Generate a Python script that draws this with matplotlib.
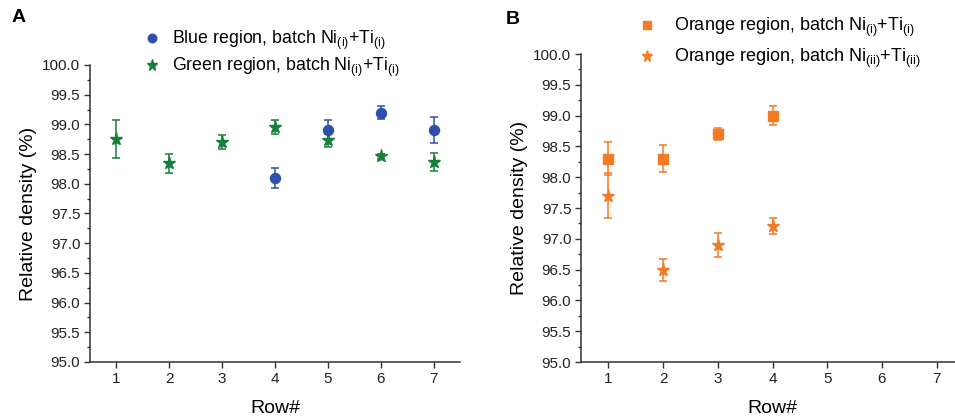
import matplotlib
matplotlib.use("Agg")
import matplotlib.pyplot as plt
from matplotlib.ticker import MultipleLocator, FormatStrFormatter

plt.rcParams["font.family"] = ["Liberation Sans", "DejaVu Sans"]
plt.rcParams["mathtext.fontset"] = "custom"
plt.rcParams["mathtext.rm"] = "Liberation Sans"
plt.rcParams["mathtext.it"] = "Liberation Sans"
plt.rcParams["mathtext.default"] = "regular"

# Panel A: density per row, blue and green regions
rows_blue = [4, 5, 6, 7]
blue_density = [98.1, 98.9, 99.2, 98.9]
blue_err = [0.17, 0.17, 0.11, 0.22]

rows_green = [1, 2, 3, 4, 5, 6, 7]
green_density = [98.75, 98.35, 98.7, 98.95, 98.73, 98.46, 98.37]
green_err = [0.32, 0.16, 0.12, 0.12, 0.11, 0.04, 0.15]

# Panel B: orange region, two powder batches
rows_orange = [1, 2, 3, 4]
orange_i_density = [98.3, 98.3, 98.7, 99.0]
orange_i_err = [0.27, 0.22, 0.1, 0.15]
orange_ii_density = [97.7, 96.5, 96.9, 97.2]
orange_ii_err = [0.37, 0.18, 0.19, 0.13]

row_ticks = [1, 2, 3, 4, 5, 6, 7]

BLUE = "#2f4fae"
GREEN = "#15803a"
ORANGE = "#f47b25"
AXIS = "#333333"

W, H = 955, 417
fig = plt.figure(figsize=(W / 100, H / 100), dpi=100)


def px_axes(left, right, top, bottom):
    return fig.add_axes([left / W, 1 - bottom / H, (right - left) / W, (bottom - top) / H])


def style_axes(ax):
    ax.set_xlim(0.5, 7.5)
    ax.set_ylim(95.0, 100.0)
    ax.set_xticks(row_ticks)
    ax.yaxis.set_major_locator(MultipleLocator(0.5))
    ax.yaxis.set_minor_locator(MultipleLocator(0.25))
    ax.yaxis.set_major_formatter(FormatStrFormatter("%.1f"))
    for side in ("top", "right"):
        ax.spines[side].set_visible(False)
    for side in ("left", "bottom"):
        ax.spines[side].set_linewidth(1.1)
        ax.spines[side].set_color(AXIS)
    ax.tick_params(axis="both", which="major", direction="out", length=4,
                   width=1.0, color=AXIS, labelsize=11, labelcolor="#222222", pad=3)
    ax.tick_params(axis="y", which="minor", direction="out", length=2.2,
                   width=1.0, color=AXIS)
    ax.set_xlabel("Row#", fontsize=14, labelpad=10)
    ax.set_ylabel("Relative density (%)", fontsize=14, labelpad=4)


ekw = dict(linestyle="none", elinewidth=1.1, capsize=2.6, capthick=1.1)

# ---- panel A ----
ax1 = px_axes(90, 460, 65, 362)
style_axes(ax1)
ax1.errorbar(rows_green, green_density, yerr=green_err, marker="*", markersize=9.5,
             color=GREEN, ecolor=GREEN, label="Green region, batch Ni$_{(i)}$+Ti$_{(i)}$", **ekw)
ax1.errorbar(rows_blue, blue_density, yerr=blue_err, marker="o", markersize=7.2,
             color=BLUE, ecolor=BLUE, label="Blue region, batch Ni$_{(i)}$+Ti$_{(i)}$", **ekw)
h, l = ax1.get_legend_handles_labels()
ax1.legend([h[1][0], h[0][0]], [l[1], l[0]], loc="center left",
           bbox_to_anchor=(143 / W, 1 - 54 / H), bbox_transform=fig.transFigure,
           frameon=False, fontsize=12.8, handlelength=1.0, handletextpad=0.62,
           labelspacing=0.2, markerscale=0.85, borderpad=0, borderaxespad=0)
fig.text(12 / W, 1 - 18 / H, "A", fontsize=14, fontweight="bold", va="center", ha="left")

# ---- panel B ----
ax2 = px_axes(581, 964, 54, 362)
style_axes(ax2)
ax2.errorbar(rows_orange, orange_i_density, yerr=orange_i_err, marker="s", markersize=6.5,
             color=ORANGE, ecolor=ORANGE,
             label="Orange region, batch Ni$_{(i)}$+Ti$_{(i)}$", **ekw)
ax2.errorbar(rows_orange, orange_ii_density, yerr=orange_ii_err, marker="*", markersize=9.5,
             color=ORANGE, ecolor=ORANGE,
             label="Orange region, batch Ni$_{(ii)}$+Ti$_{(ii)}$", **ekw)
h, l = ax2.get_legend_handles_labels()
ax2.legend([h[0][0], h[1][0]], l, loc="center left",
           bbox_to_anchor=(638 / W, 1 - 43 / H), bbox_transform=fig.transFigure,
           frameon=False, fontsize=13, handlelength=1.0, handletextpad=1.0,
           labelspacing=0.42, markerscale=0.85, borderpad=0, borderaxespad=0)
fig.text(506 / W, 1 - 20 / H, "B", fontsize=14, fontweight="bold", va="center", ha="left")

fig.savefig("out.png", dpi=100)
